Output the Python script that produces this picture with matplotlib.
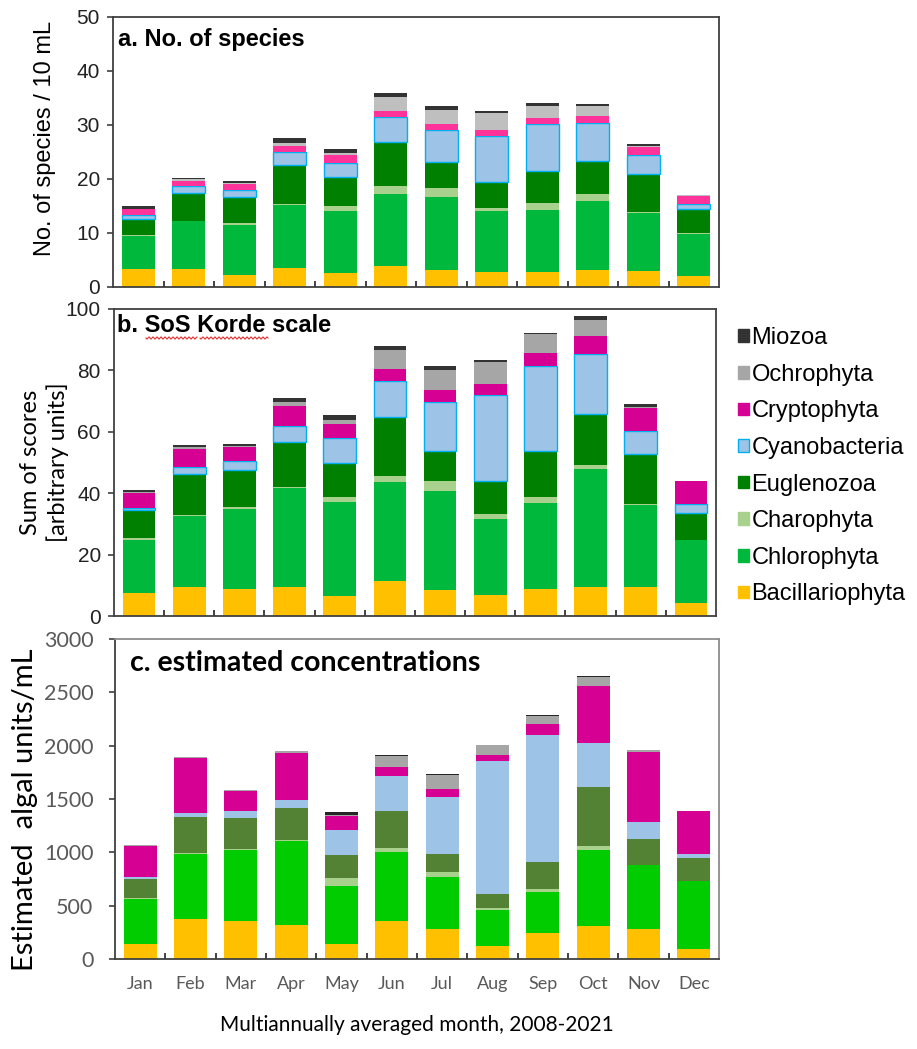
import numpy as np
import matplotlib
matplotlib.use("Agg")
import matplotlib.pyplot as plt
from matplotlib.patches import Patch

months = ["Jan", "Feb", "Mar", "Apr", "May", "Jun", "Jul", "Aug", "Sep", "Oct", "Nov", "Dec"]
groups = ["Bacillariophyta", "Chlorophyta", "Charophyta", "Euglenozoa",
          "Cyanobacteria", "Cryptophyta", "Ochrophyta", "Miozoa"]

# a. number of species / 10 mL
sp_bac = [3.33, 3.33, 2.22, 3.46, 2.59, 3.89, 3.21, 2.84, 2.78, 3.15, 2.90, 2.10]
sp_chl = [6.08, 8.84, 9.26, 11.81, 11.48, 13.39, 13.46, 11.17, 11.42, 12.78, 10.80, 7.79]
sp_cha = [0.31, 0.05, 0.37, 0.10, 0.87, 1.42, 1.66, 0.68, 1.29, 1.29, 0.25, 0.05]
sp_eug = [2.90, 5.19, 4.82, 7.16, 5.37, 8.21, 4.88, 4.75, 6.05, 6.11, 7.04, 4.50]
sp_cya = [0.68, 1.23, 1.35, 2.41, 2.65, 4.51, 5.86, 8.46, 8.58, 7.10, 3.45, 0.87]
sp_cry = [1.17, 0.99, 1.05, 1.17, 1.55, 1.11, 1.18, 1.11, 1.11, 1.17, 1.42, 1.54]
sp_och = [0.05, 0.31, 0.19, 0.62, 0.37, 2.72, 2.53, 3.21, 2.35, 1.98, 0.19, 0.19]
sp_mio = [0.55, 0.25, 0.31, 0.92, 0.74, 0.74, 0.68, 0.43, 0.49, 0.37, 0.37, 0.0]

# b. SoS Korde scale
sc_bac = [7.61, 9.35, 8.70, 9.57, 6.63, 11.52, 8.48, 6.96, 8.91, 9.57, 9.57, 4.35]
sc_chl = [17.17, 23.38, 26.30, 32.17, 30.54, 32.07, 32.28, 24.78, 27.83, 38.36, 26.52, 20.33]
sc_cha = [0.55, 0.10, 0.65, 0.43, 1.63, 2.17, 3.37, 1.41, 2.17, 1.20, 0.32, 0.10]
sc_eug = [9.34, 13.48, 11.85, 14.35, 11.20, 19.02, 9.46, 10.87, 14.68, 16.63, 16.31, 8.92]
sc_cya = [0.66, 2.29, 3.04, 5.44, 7.83, 11.74, 16.08, 27.83, 27.82, 19.46, 7.39, 2.82]
sc_cry = [4.67, 5.76, 4.35, 6.30, 4.67, 3.91, 4.03, 3.80, 4.24, 5.98, 7.61, 7.39]
sc_och = [0.38, 0.76, 0.54, 1.41, 1.30, 6.20, 6.52, 7.18, 6.09, 5.32, 0.43, 0.0]
sc_mio = [0.60, 0.54, 0.55, 1.20, 1.53, 1.30, 1.08, 0.43, 0.43, 1.09, 0.87, 0.0]

# c. estimated concentrations (algal units / mL)
co_bac = [137, 378, 359, 322, 137, 356, 281, 125, 244, 306, 278, 94]
co_chl = [422, 611, 660, 781, 544, 647, 491, 337, 381, 713, 603, 634]
co_cha = [13, 5, 12, 16, 78, 41, 47, 19, 31, 37, 3, 3]
co_eug = [181, 340, 294, 300, 216, 340, 165, 131, 256, 560, 238, 213]
co_cya = [13, 35, 66, 72, 237, 328, 532, 1241, 1191, 406, 165, 40]
co_cry = [290, 512, 181, 443, 126, 91, 81, 63, 97, 534, 657, 407]
co_och = [13, 16, 10, 19, 15, 97, 128, 93, 81, 88, 15, 0]
co_mio = [0, 0, 5, 0, 22, 16, 9, 0, 10, 12, 0, 0]

colors_a = ["#FFC000", "#00B83C", "#A9D18E", "#008000", "#9DC3E6", "#FF3399", "#BFBFBF", "#333333"]
colors_b = ["#FFC000", "#00B83C", "#A9D18E", "#008000", "#9DC3E6", "#D60093", "#A6A6A6", "#333333"]
colors_c = ["#FFC000", "#00CC00", "#A9D18E", "#548235", "#9DC3E6", "#D60093", "#A6A6A6", "#262626"]

ARIAL = "Liberation Sans"
CALIBRI = "Lato"

fig = plt.figure(figsize=(9.17, 10.49), dpi=100)
ax_a = fig.add_axes([113 / 917, 1 - 287 / 1049, 606 / 917, 270 / 1049])
ax_b = fig.add_axes([114 / 917, 1 - 616 / 1049, 602 / 917, 307 / 1049])
ax_c = fig.add_axes([115 / 917, 1 - 959 / 1049, 604 / 917, 320 / 1049])

x = np.arange(len(months))


def stack(ax, series, colors, cyan_edge):
    bottom = np.zeros(len(months))
    for i, vals in enumerate(series):
        vals = np.array(vals, dtype=float)
        if cyan_edge and groups[i] == "Cyanobacteria":
            ax.bar(x, vals, 0.65, bottom=bottom, color=colors[i],
                   edgecolor="#00B0F0", linewidth=1.0)
        else:
            ax.bar(x, vals, 0.65, bottom=bottom, color=colors[i], linewidth=0)
        bottom += vals


def frame(ax, ymax, step, tickfont, tickcolor, tickfs, pad):
    ax.set_xlim(-0.5, 11.5)
    ax.set_ylim(0, ymax)
    ax.set_yticks(np.arange(0, ymax + 1, step))
    ax.set_xticks(np.arange(0.5, 11.5, 1))
    ax.set_xticklabels([])
    ax.tick_params(axis="x", direction="in", length=4.5, width=1.2, color="#222222")
    ax.tick_params(axis="y", direction="out", length=4.5, width=1.2, color="#404040",
                   labelcolor=tickcolor, labelsize=tickfs, pad=pad)
    for lab in ax.get_yticklabels():
        lab.set_family(tickfont)
    for s in ax.spines.values():
        s.set_color("#404040")
        s.set_linewidth(1.3)


stack(ax_a, [sp_bac, sp_chl, sp_cha, sp_eug, sp_cya, sp_cry, sp_och, sp_mio], colors_a, True)
stack(ax_b, [sc_bac, sc_chl, sc_cha, sc_eug, sc_cya, sc_cry, sc_och, sc_mio], colors_b, True)
stack(ax_c, [co_bac, co_chl, co_cha, co_eug, co_cya, co_cry, co_och, co_mio], colors_c, False)

frame(ax_a, 50, 10, ARIAL, "#222222", 15, 5)
frame(ax_b, 100, 20, ARIAL, "#222222", 15, 5)
frame(ax_c, 3000, 500, CALIBRI, "#595959", 15.5, 11)
ax_c.spines["top"].set_color("#8C8C8C")
ax_c.spines["right"].set_color("#8C8C8C")

ax_c.set_xticks(x, minor=True)
ax_c.set_xticklabels(months, minor=True, family=CALIBRI, fontsize=13, color="#595959")
ax_c.tick_params(axis="x", which="minor", length=0, pad=12)

ax_a.set_ylabel("No. of species / 10 mL", family=ARIAL, fontsize=17)
ax_a.yaxis.set_label_coords(-0.094, 0.55)
ax_b.set_ylabel("Sum of scores\n[arbitrary units]", family=CALIBRI, fontsize=17,
                linespacing=1.3)
ax_b.yaxis.set_label_coords(-0.075, 0.5)
ax_c.set_ylabel("Estimated  algal units/mL", family=CALIBRI, fontsize=21)
ax_c.yaxis.set_label_coords(-0.128, 0.465)
ax_c.set_xlabel("Multiannually averaged month, 2008-2021", family=CALIBRI, fontsize=15,
                labelpad=17)

ax_a.text(0.009, 0.915, "a. No. of species", transform=ax_a.transAxes, family=ARIAL,
          fontsize=17, fontweight="bold", va="center")
ax_b.text(0.005, 0.945, "b. SoS Korde scale", transform=ax_b.transAxes, family=ARIAL,
          fontsize=17, fontweight="bold", va="center")
ax_c.text(0.025, 0.925, "c. estimated concentrations", transform=ax_c.transAxes,
          family=CALIBRI, fontsize=20.5, fontweight="bold", va="center")

# red spell-check squiggle under "SoS Korde"
for x0, x1 in [(146, 197), (200, 268)]:
    px = np.linspace(x0, x1, 200)
    py = 338 + 1.0 * np.sin((px - x0) / 4.0 * 2 * np.pi)
    ax_b.plot((px - 114) / 602, (616 - py) / 307, transform=ax_b.transAxes,
              color="#E03030", linewidth=0.8, clip_on=False)

handles = []
for g, c in zip(groups, colors_b):
    ec = "#00B0F0" if g == "Cyanobacteria" else c
    handles.append(Patch(facecolor=c, edgecolor=ec, linewidth=1.0, label=g))
fig.legend(handles[::-1], groups[::-1], loc="upper left", bbox_to_anchor=(738 / 917, 1 - 327 / 1049),
           frameon=False, prop={"family": ARIAL, "size": 17}, handlelength=0.45,
           handleheight=0.45, handletextpad=0.12, labelspacing=0.62, borderpad=0, borderaxespad=0)

fig.savefig("out.png", dpi=100)
